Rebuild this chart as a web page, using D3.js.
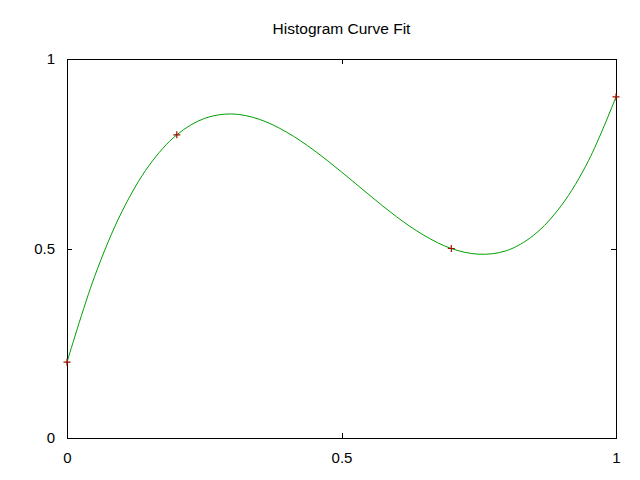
<!DOCTYPE html>
<html><head><meta charset="utf-8">
<script src="https://cdn.jsdelivr.net/npm/d3@7"></script>
<style>body{margin:0;background:#fff}svg{display:block}</style>
</head><body>
<svg id="c" width="640" height="480"></svg>
<script>
const title = "Histogram Curve Fit";
const pointX = [0, 0.2, 0.7, 1];
const pointY = [0.2, 0.8, 0.5, 0.9];
const curveX = [0,0.05,0.1,0.15,0.2,0.25,0.3,0.35,0.4,0.45,0.5,0.55,0.6,0.65,0.7,0.75,0.8,0.85,0.9,0.95,1];
const curveY = [0.2,0.425,0.597,0.72,0.8,0.843,0.855,0.841,0.807,0.759,0.702,0.642,0.584,0.535,0.5,0.485,0.494,0.535,0.6125,0.732,0.9];
const xTicks = [0, 0.5, 1];
const yTicks = [0, 0.5, 1];
const xTickLabels = ["0", "0.5", "1"];
const yTickLabels = ["0", "0.5", "1"];

const svg = d3.select("#c");
const L = 67, R = 616, T = 59, B = 438;
const x = d3.scaleLinear().domain([0, 1]).range([L, R]);
const y = d3.scaleLinear().domain([0, 1]).range([B, T]);
const font = "Arial, 'Liberation Sans', sans-serif";

svg.append("text").attr("x", (L + R) / 2).attr("y", 34).attr("text-anchor", "middle")
  .attr("font-family", font).attr("font-size", 15.5).attr("fill", "#000").text(title);

// axes with inward ticks
const axB = svg.append("g").attr("transform", `translate(0,${B})`)
  .call(d3.axisBottom(x).tickValues(xTicks).tickSize(-5).tickPadding(14).tickFormat((d, i) => xTickLabels[i]));
const axT = svg.append("g").attr("transform", `translate(0,${T})`)
  .call(d3.axisTop(x).tickValues(xTicks).tickSize(-5).tickFormat(""));
const axL = svg.append("g").attr("transform", `translate(${L},0)`)
  .call(d3.axisLeft(y).tickValues(yTicks).tickSize(-5).tickPadding(12).tickFormat((d, i) => yTickLabels[i]));
const axR = svg.append("g").attr("transform", `translate(${R},0)`)
  .call(d3.axisRight(y).tickValues(yTicks).tickSize(-5).tickFormat(""));
[axB, axT, axL, axR].forEach(a => {
  a.select(".domain").attr("stroke", "#000").attr("stroke-width", 1).attr("shape-rendering", "crispEdges");
  a.selectAll(".tick line").attr("stroke", "#000").attr("shape-rendering", "crispEdges");
  a.selectAll("text").attr("font-family", font).attr("font-size", 15).attr("fill", "#000");
});
axB.selectAll("text").attr("dy", "0.71em");

// fitted curve
const line = d3.line().x(d => x(d[0])).y(d => y(d[1])).curve(d3.curveCatmullRom);
svg.append("path").datum(curveX.map((v, i) => [v, curveY[i]]))
  .attr("d", line).attr("fill", "none").attr("stroke", "#00a000").attr("stroke-width", 1);

// data points (+)
const pts = svg.append("g");
pointX.forEach((v, i) => {
  const px = x(v), py = y(pointY[i]);
  pts.append("path").attr("d", `M${px - 3.5},${py}H${px + 3.5}M${px},${py - 3.5}V${py + 3.5}`)
    .attr("stroke", "#a01000").attr("stroke-width", 1.2);
});
</script>
</body></html>
